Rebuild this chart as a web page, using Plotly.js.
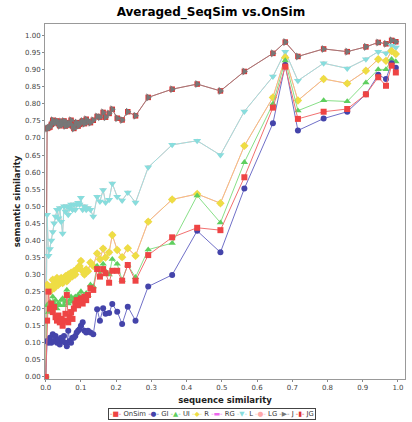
<!DOCTYPE html>
<html>
<head>
<meta charset="utf-8">
<script src="https://cdn.plot.ly/plotly-3.0.1.min.js"></script>
<style>html,body{margin:0;padding:0;background:#fff;}#chart{width:412px;height:422px;}</style>
</head>
<body>
<div id="chart"></div>
<script>
// ---- data ----
const seqSim = [0,
  0.004,0.008,0.012,0.016,0.02,0.024,0.028,0.032,0.036,0.04,
  0.044,0.048,0.052,0.056,0.06,0.064,0.068,0.072,0.076,0.08,
  0.084,0.088,0.092,0.096,0.1,
  0.105,0.11,0.115,0.12,0.127,0.135,
  0.146,0.154,0.163,0.17,0.18,0.189,0.203,0.217,0.233,0.255,0.291,
  0.359,0.43,0.496,0.564,0.645,0.68,0.716,0.789,0.856,0.909,0.944,0.966,0.982,0.994];

const onSim = [0,
  0.165,0.25,0.20,0.215,0.19,0.205,0.175,0.165,0.18,0.16,
  0.17,0.15,0.165,0.185,0.24,0.16,0.175,0.19,0.17,0.20,
  0.215,0.225,0.21,0.225,0.23,
  0.215,0.235,0.225,0.24,0.26,0.255,
  0.316,0.294,0.316,0.304,0.276,0.311,0.311,0.282,0.328,0.282,0.357,
  0.409,0.437,0.43,0.585,0.789,0.909,0.756,0.777,0.785,0.828,0.878,0.853,0.912,0.892];

const gi = [0,
  0.105,0.10,0.115,0.10,0.125,0.105,0.12,0.10,0.11,0.095,
  0.115,0.105,0.12,0.10,0.09,0.135,0.105,0.10,0.115,0.115,
  0.12,0.13,0.135,0.14,0.15,
  0.16,0.135,0.13,0.135,0.13,0.125,
  0.198,0.165,0.201,0.185,0.187,0.214,0.191,0.155,0.206,0.165,0.265,
  0.299,0.428,0.365,0.552,0.743,0.914,0.722,0.757,0.777,0.828,0.885,0.873,0.919,0.906];

const ui = [0,
  0.21,0.19,0.22,0.20,0.235,0.215,0.225,0.20,0.215,0.21,
  0.225,0.23,0.21,0.22,0.255,0.215,0.225,0.235,0.22,0.23,
  0.235,0.225,0.24,0.235,0.25,
  0.235,0.24,0.245,0.24,0.27,0.265,
  0.325,0.30,0.331,0.31,0.30,0.345,0.331,0.284,0.328,0.292,0.373,
  0.392,0.531,0.452,0.629,0.80,0.927,0.78,0.81,0.807,0.862,0.901,0.901,0.931,0.924];

const r = [0,
  0.27,0.255,0.25,0.265,0.285,0.26,0.275,0.29,0.27,0.28,
  0.29,0.275,0.285,0.295,0.28,0.30,0.29,0.305,0.295,0.31,
  0.30,0.315,0.32,0.325,0.34,
  0.31,0.30,0.315,0.31,0.335,0.325,
  0.362,0.345,0.376,0.35,0.365,0.416,0.372,0.351,0.377,0.355,0.455,
  0.52,0.536,0.509,0.677,0.819,0.936,0.81,0.873,0.86,0.897,0.931,0.926,0.955,0.946];

const rg = [0,
  0.27,0.255,0.25,0.265,0.285,0.26,0.275,0.29,0.27,0.28,
  0.29,0.275,0.285,0.295,0.28,0.30,0.29,0.305,0.295,0.31,
  0.30,0.315,0.32,0.325,0.34,
  0.31,0.30,0.315,0.31,0.335,0.325,
  0.362,0.345,0.376,0.35,0.365,0.416,0.372,0.351,0.377,0.355,0.455,
  0.52,0.536,0.509,0.677,0.819,0.936,0.81,0.873,0.86,0.897,0.931,0.926,0.955,0.946];

const l = [0,
  0.475,0.355,0.375,0.40,0.425,0.45,0.47,0.49,0.465,0.495,
  0.455,0.42,0.50,0.485,0.50,0.475,0.495,0.505,0.49,0.505,
  0.49,0.505,0.51,0.505,0.525,
  0.49,0.50,0.49,0.495,0.49,0.47,
  0.528,0.514,0.548,0.511,0.519,0.567,0.528,0.517,0.54,0.511,0.614,
  0.68,0.692,0.65,0.778,0.88,0.953,0.868,0.919,0.904,0.931,0.953,0.948,0.97,0.965];

const lg = [0,
  0.475,0.355,0.375,0.40,0.425,0.45,0.47,0.49,0.465,0.495,
  0.455,0.42,0.50,0.485,0.50,0.475,0.495,0.505,0.49,0.505,
  0.49,0.505,0.51,0.505,0.525,
  0.49,0.50,0.49,0.495,0.49,0.47,
  0.528,0.514,0.548,0.511,0.519,0.567,0.528,0.517,0.54,0.511,0.614,
  0.68,0.692,0.65,0.778,0.88,0.953,0.868,0.919,0.904,0.931,0.953,0.948,0.97,0.965];

const j = [0,
  0.728,0.73,0.732,0.74,0.752,0.748,0.745,0.75,0.742,0.736,
  0.748,0.74,0.75,0.735,0.745,0.738,0.742,0.752,0.735,0.728,
  0.74,0.745,0.735,0.74,0.745,
  0.75,0.742,0.755,0.748,0.745,0.752,
  0.763,0.761,0.775,0.761,0.772,0.784,0.758,0.753,0.777,0.765,0.819,
  0.843,0.858,0.838,0.895,0.948,0.981,0.939,0.961,0.953,0.967,0.98,0.976,0.986,0.982];

const jg = [0,
  0.728,0.73,0.732,0.74,0.752,0.748,0.745,0.75,0.742,0.736,
  0.748,0.74,0.75,0.735,0.745,0.738,0.742,0.752,0.735,0.728,
  0.74,0.745,0.735,0.74,0.745,
  0.75,0.742,0.755,0.748,0.745,0.752,
  0.763,0.761,0.775,0.761,0.772,0.784,0.758,0.753,0.777,0.765,0.819,
  0.843,0.858,0.838,0.895,0.948,0.981,0.939,0.961,0.953,0.967,0.98,0.976,0.986,0.982];

const seriesNames = ['OnSim','GI','UI','R','RG','L','LG','J','JG'];
const seriesValues = [onSim, gi, ui, r, rg, l, lg, j, jg];

// ---- styles ----
const styles = [
  {line:'#f27070', marker:'#ee4444', symbol:'square', size:6, glyph:'\u25A0'},
  {line:'#7070c8', marker:'#4444aa', symbol:'circle', size:6, glyph:'\u25CF'},
  {line:'#88e088', marker:'#5fcf5f', symbol:'triangle-up', size:6.5, glyph:'\u25B2'},
  {line:'rgba(245,210,90,0.8)', marker:'#eedd44', symbol:'diamond', size:6.5, glyph:'\u25C6'},
  {line:'#f090e0', marker:'#ee66ee', symbol:'square', size:4.5, glyph:'\u25AC'},
  {line:'#9ee0e0', marker:'#88dddd', symbol:'triangle-down', size:7, glyph:'\u25BC'},
  {line:'#ffb8b8', marker:'#ffaaaa', symbol:'circle', size:4, glyph:'\u25CF'},
  {line:'rgba(140,140,140,0.6)', marker:'#777777', symbol:'triangle-right', size:7, glyph:'\u25B6'},
  {line:'#cc5050', marker:'#dd3333', symbol:'square', size:5.5, glyph:'\u25AE'}
];

const traces = [];
for (let i = seriesNames.length - 1; i >= 0; i--) {
  const st = styles[i];
  traces.push({
    type:'scatter', mode:'lines+markers', name:seriesNames[i],
    x:seqSim, y:seriesValues[i],
    line:{color:st.line, width:1},
    marker:{color:st.marker, symbol:st.symbol, size:st.size, line:{width:0}},
    showlegend:false
  });
}

let legendText = seriesNames.map((n, i) =>
  '<span style="color:' + styles[i].marker + '">-' + styles[i].glyph + '-</span> ' + n
).join('&nbsp;');

const font = 'DejaVu Sans, sans-serif';
const layout = {
  width:412, height:422,
  margin:{l:45, r:7, t:24, b:43},
  paper_bgcolor:'#fff', plot_bgcolor:'#fff',
  showlegend:false,
  title:{text:'<b>Averaged_SeqSim vs.OnSim</b>', font:{family:font, size:12, color:'#000'},
         x:0.512, xref:'container', xanchor:'center', y:0.972, yref:'container', yanchor:'middle'},
  xaxis:{range:[-0.002,1.02], tick0:0, dtick:0.1, tickformat:'.1f',
         ticks:'outside', ticklen:2, tickcolor:'#888', tickfont:{family:font, size:7, color:'#444'},
         showgrid:false, zeroline:false, showline:true, linecolor:'#999', linewidth:1, mirror:true,
         title:{text:'<b>sequence similarity</b>', font:{family:font, size:8.5, color:'#222'}, standoff:5}},
  yaxis:{range:[-0.006,1.034], tick0:0, dtick:0.05, tickformat:'.2f',
         ticks:'outside', ticklen:2, tickcolor:'#888', tickfont:{family:font, size:7, color:'#444'},
         showgrid:false, zeroline:false, showline:true, linecolor:'#999', linewidth:1, mirror:true,
         title:{text:'<b>semantic similarity</b>', font:{family:font, size:8.5, color:'#222'}, standoff:3}},
  annotations:[{
    text:legendText, xref:'paper', yref:'paper', x:0.465, y:-0.0986,
    xanchor:'center', yanchor:'middle', showarrow:false,
    font:{family:font, size:6.8, color:'#333'},
    bordercolor:'#444', borderwidth:1, borderpad:1, bgcolor:'#fff'
  }]
};

Plotly.newPlot('chart', traces, layout, {displayModeBar:false, staticPlot:true});
</script>
</body>
</html>
